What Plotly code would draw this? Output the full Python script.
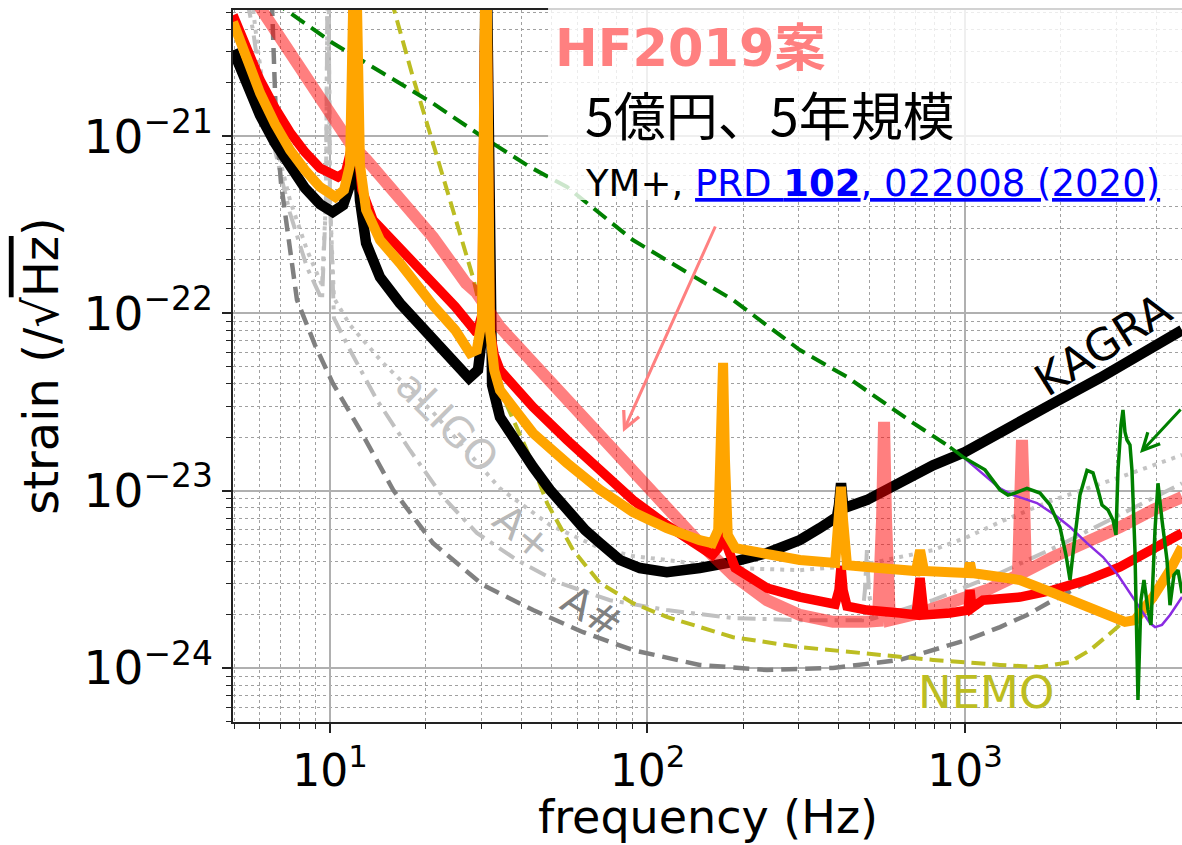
import plotly.graph_objects as go

# ---------------- sensitivity curves: frequency [Hz], strain [1/sqrt(Hz)] ----------------
kagra_f = [4.95, 5.40, 6.02, 6.71, 7.48, 8.34, 9.30, 10.2, 11.0, 11.56, 11.82, 12.0, 12.17, 12.43, 12.99,
           14.37, 16.61, 19.21, 22.21, 25.3, 27.4, 29.25, 30.3, 31.0, 31.7, 32.4, 34.3, 38.8, 43.6, 49.3,
           55.8, 63.6, 70.9, 81.9, 94.7, 115, 146, 186, 238, 302, 349, 395, 401, 407, 413, 425, 491, 624,
           793, 1000, 1289, 1852, 2662, 3825, 4826]
kagra_h = [3.05e-21, 2.07e-21, 1.31e-21, 9.13e-22, 6.68e-22, 5.09e-22, 4.13e-22, 3.73e-22, 4.08e-22, 5.30e-22,
           9.5e-22, 2e-20, 9.5e-22, 4.35e-22, 2.49e-22, 1.60e-22, 1.14e-22, 8.59e-23, 6.62e-23, 5.11e-23,
           4.31e-23, 4.79e-23, 8.05e-23, 2e-20, 8.05e-23, 3.94e-23, 2.60e-23, 1.81e-23, 1.36e-23, 1.01e-23,
           7.78e-24, 6.00e-24, 5.06e-24, 4.06e-24, 3.66e-24, 3.47e-24, 3.66e-24, 3.96e-24, 4.45e-24, 5.26e-24,
           6.15e-24, 7.1e-24, 8.3e-24, 1.1e-23, 8.3e-24, 8.08e-24, 8.85e-24, 1.13e-23, 1.39e-23, 1.65e-23,
           2.14e-23, 3.04e-23, 4.32e-23, 6.21e-23, 8.05e-23]

red_f = [4.95, 5.40, 6.02, 6.71, 7.48, 8.34, 9.30, 10.6, 11.2, 11.65, 12.0, 12.25, 12.61, 13.66, 16.61,
         21.1, 24.8, 27.0, 29.0, 30.1, 31.0, 31.9, 32.9, 34.3, 43.6, 55.8, 70.9, 90.0, 115, 146, 160, 167,
         173, 179, 189, 238, 302, 390, 401, 407, 413, 425, 491, 624, 701, 722, 743, 897, 1022, 1037, 1052,
         1139, 1490, 1893, 2423, 3078, 3910, 4826]
red_h = [4.81e-21, 3.26e-21, 2.07e-21, 1.44e-21, 1.05e-21, 8.12e-22, 6.6e-22, 5.87e-22, 6.27e-22, 8.34e-22,
         2e-20, 8.34e-22, 4.96e-22, 3.36e-22, 2.28e-22, 1.48e-22, 1.09e-22, 9.17e-23, 7.74e-23, 9.78e-23,
         2e-20, 8.05e-23, 5.82e-23, 4.79e-23, 2.96e-23, 1.93e-23, 1.30e-23, 8.85e-24, 6.40e-24, 4.81e-24,
         4.33e-24, 4.74e-24, 6.40e-24, 4.74e-24, 3.66e-24, 2.82e-24, 2.51e-24, 2.29e-24, 2.75e-24, 3.75e-24,
         2.75e-24, 2.23e-24, 2.12e-24, 2.04e-24, 1.99e-24, 3.21e-24, 1.99e-24, 2.04e-24, 2.12e-24, 2.75e-24,
         2.18e-24, 2.41e-24, 2.51e-24, 2.75e-24, 3.13e-24, 3.71e-24, 4.62e-24, 5.77e-24]

orange_f = [4.95, 5.40, 6.02, 6.71, 7.48, 8.34, 9.30, 10.4, 11.07, 11.56, 12.0, 12.43, 12.7, 12.99, 14.37,
            16.61, 21.1, 24.8, 27.6, 29.0, 30.1, 31.0, 31.9, 32.9, 34.3, 43.6, 55.8, 70.9, 90.0, 115, 146,
            160, 167, 170.4, 173, 175.4, 179, 189, 238, 302, 390, 401, 407, 413, 425, 491, 624, 701, 722,
            743, 897, 1022, 1037, 1052, 1289, 1490, 1893, 2423, 2862, 3191, 3430, 3910, 4423, 4826]
orange_h = [4.40e-21, 2.86e-21, 1.75e-21, 1.17e-21, 8.34e-22, 6.43e-22, 5.16e-22, 4.53e-22, 4.96e-22, 6.86e-22,
            2e-20, 6.86e-22, 4.96e-22, 3.83e-22, 2.59e-22, 1.92e-22, 1.11e-22, 8.05e-23, 5.97e-23, 6.21e-23,
            9.17e-23, 2e-20, 8.05e-23, 4.79e-23, 3.69e-23, 2.11e-23, 1.43e-23, 1.01e-23, 7.57e-24, 6.15e-24,
            5.26e-24, 5.06e-24, 6.0e-24, 1.49e-23, 5.25e-23, 1.49e-23, 5.62e-24, 4.74e-24, 4.33e-24, 4.06e-24,
            3.91e-24, 6.83e-24, 1.05e-23, 6.83e-24, 3.80e-24, 3.71e-24, 3.56e-24, 3.52e-24, 4.62e-24, 3.52e-24,
            3.47e-24, 3.43e-24, 3.91e-24, 3.43e-24, 3.26e-24, 3.13e-24, 2.65e-24, 2.21e-24, 1.94e-24, 1.82e-24,
            1.86e-24, 2.51e-24, 3.56e-24, 4.81e-24]

hf2019_f = [5.81, 7.11, 8.04, 9.03, 10.0, 11.0, 11.56, 12.99, 16.61, 21.1, 26.8, 28.8, 34.3, 43.6, 55.8,
            70.9, 90.0, 115, 146, 186, 238, 302, 384, 488, 532, 548, 556, 564, 580, 722, 917, 1173, 1468,
            1490, 1512, 1534, 1556, 1893, 2423, 3078, 3910, 4826]
hf2019_h = [5.85e-21, 3.35e-21, 2.36e-21, 1.75e-21, 1.31e-21, 1.04e-21, 9.13e-22, 7.4e-22, 4.53e-22, 2.69e-22,
            1.48e-22, 1.32e-22, 8.37e-23, 5.25e-23, 3.24e-23, 2.00e-23, 1.26e-23, 7.78e-24, 5.06e-24, 3.34e-24,
            2.41e-24, 1.99e-24, 1.82e-24, 1.82e-24, 1.84e-24, 6.83e-24, 2.44e-23, 6.83e-24, 1.86e-24, 2.04e-24,
            2.32e-24, 2.75e-24, 3.34e-24, 8.85e-24, 1.93e-23, 8.85e-24, 3.52e-24, 4.22e-24, 5.06e-24, 6.23e-24,
            7.78e-24, 9.2e-24]

nemo_f = [15.6, 18.25, 21.1, 24.4, 28.2, 34.3, 41.7, 48.3, 58.3, 70.9, 90.0, 115, 186, 302, 491, 793,
          1289, 1723, 2142, 2476, 2821, 3123]
nemo_h = [5.85e-21, 2.15e-21, 9.13e-22, 3.83e-22, 1.60e-22, 3.69e-23, 1.69e-23, 8.5e-24, 4.62e-24, 3.01e-24,
          2.32e-24, 1.94e-24, 1.49e-24, 1.31e-24, 1.21e-24, 1.11e-24, 1.04e-24, 1.01e-24, 1.08e-24, 1.26e-24,
          1.53e-24, 1.79e-24]

green_dash_f = [6.56, 7.27, 10.2, 14.69, 21.1, 30.3, 42.7, 55.8, 90.0, 186, 302, 425, 686, 897]
green_dash_h = [5.85e-21, 5.14e-21, 3.35e-21, 2.26e-21, 1.53e-21, 9.87e-22, 6.68e-22, 5.16e-22, 2.59e-22,
                1.19e-22, 6.21e-23, 4.38e-23, 2.41e-23, 1.76e-23]

green_f = [897, 985, 1156, 1289, 1366, 1437, 1568, 1723, 1852, 1991, 2080, 2142, 2204, 2302, 2423, 2530,
           2624, 2701, 2821, 2925, 2989, 3033, 3100, 3145, 3191, 3238, 3309, 3357, 3430, 3506, 3583, 3662,
           3770, 3853, 3967, 4054, 4173, 4327, 4423, 4552, 4687, 4826]
green_h = [1.76e-23, 1.55e-23, 1.31e-23, 1.01e-23, 9.44e-24, 9.69e-24, 1.03e-23, 9.69e-24, 8.30e-24, 6.23e-24,
           4.33e-24, 3.13e-24, 4.93e-24, 9.44e-24, 1.30e-23, 1.26e-23, 1.01e-23, 8.30e-24, 7.78e-24, 6.83e-24,
           5.62e-24, 1.30e-23, 2.34e-23, 2.85e-23, 2.14e-23, 1.93e-23, 1.81e-23, 1.30e-23, 4.62e-24, 6.59e-25,
           2.41e-24, 3.13e-24, 2.12e-24, 1.75e-24, 6.0e-24, 1.10e-23, 6.83e-24, 4.06e-24, 2.26e-24, 3.34e-24,
           3.56e-24, 2.64e-24]

purple_f = [985, 1289, 1417, 1686, 1920, 2142, 2423, 2720, 3033, 3309, 3636, 3825, 3967, 4173, 4423, 4826]
purple_h = [1.55e-23, 1.03e-23, 9.44e-24, 8.51e-24, 7.28e-24, 6.23e-24, 5.06e-24, 4.22e-24, 3.34e-24,
            2.64e-24, 2.04e-24, 1.79e-24, 1.70e-24, 1.75e-24, 1.99e-24, 2.51e-24]

asharp_f = [6.56, 6.66, 6.76, 7.01, 7.43, 7.87, 8.97, 10.2, 12.43, 15.8, 21.1, 30.3, 43.6, 62.7, 90.0,
            146, 238, 384, 624, 1015, 1289, 1568, 1893, 3078, 4826]
asharp_h = [5.85e-21, 2.68e-21, 1.23e-21, 5.43e-22, 2.59e-22, 1.19e-22, 6.62e-23, 4.04e-23, 2.20e-23,
            1.01e-23, 5.06e-24, 2.94e-24, 2.12e-24, 1.59e-24, 1.26e-24, 1.04e-24, 9.73e-25, 1.0e-24, 1.11e-24,
            1.44e-24, 1.70e-24, 1.99e-24, 2.41e-24, 3.80e-24, 6.0e-24]

aligo_f = [5.68, 5.93, 6.24, 6.81, 7.48, 8.46, 9.44, 9.71, 9.86, 10.0, 10.29, 11.56, 14.69, 21.1, 27.0,
           34.3, 49.3, 70.9, 90.0, 115, 186, 302, 384, 474, 624, 793, 1015, 1289, 1893, 3078, 4826]
aligo_h = [5.85e-21, 3.05e-21, 1.60e-21, 8.34e-22, 4.35e-22, 2.28e-22, 1.44e-22, 4.35e-22, 2e-20, 4.35e-22,
           1.22e-22, 8.59e-23, 5.25e-23, 2.77e-23, 1.69e-23, 1.03e-23, 6.40e-24, 4.74e-24, 4.28e-24, 4.06e-24,
           3.66e-24, 3.56e-24, 3.71e-24, 3.80e-24, 4.22e-24, 4.62e-24, 5.47e-24, 6.65e-24, 8.85e-24, 1.19e-23,
           1.59e-23]

aplus_f = [5.48, 5.72, 6.15, 6.81, 7.48, 8.46, 9.44, 9.71, 9.86, 10.0, 10.29, 11.56, 14.06, 17.86, 22.7,
           29.0, 38.8, 53.0, 76.2, 115, 186, 302, 474, 484, 491, 498, 510, 793, 1289, 1991, 3078, 4826]
aplus_h = [5.85e-21, 3.96e-21, 1.60e-21, 7.32e-22, 3.68e-22, 1.82e-22, 1.19e-22, 4.35e-22, 2e-20, 4.35e-22,
           9.41e-23, 6.21e-23, 3.24e-23, 1.69e-23, 9.2e-24, 5.77e-24, 4.06e-24, 3.01e-24, 2.41e-24, 2.12e-24,
           1.91e-24, 1.86e-24, 1.86e-24, 2.75e-24, 4.62e-24, 2.75e-24, 1.89e-24, 2.41e-24, 3.43e-24, 4.93e-24,
           7.28e-24, 1.10e-23]

# ---------------- axis ticks ----------------
x_major = [10, 100, 1000]
x_major_text = ["10<sup>1</sup>", "10<sup>2</sup>", "10<sup>3</sup>"]
y_major = [1e-24, 1e-23, 1e-22, 1e-21]
y_major_text = ["10<sup>\u221224</sup>", "10<sup>\u221223</sup>", "10<sup>\u221222</sup>", "10<sup>\u221221</sup>"]
x_minor = [m * 10 ** e for e in range(0, 4) for m in range(2, 10)]
y_minor = [m * 10.0 ** e for e in range(-25, -20) for m in range(2, 10)]

FONT = "DejaVu Sans"
MIXED_FONT = "DejaVu Sans, Noto Sans CJK JP"
JP_FONT = "Noto Sans CJK JP"

fig = go.Figure()


def curve(f, h, color, width, dash="solid"):
    fig.add_trace(go.Scatter(x=f, y=h, mode="lines",
                             line=dict(color=color, width=width, dash=dash),
                             hoverinfo="skip", showlegend=False))


curve(aligo_f, aligo_h, "#c4c4c4", 4, "4px,6px")
curve(aplus_f, aplus_h, "#c0c0c0", 4, "18px,7px,4px,7px")
curve(asharp_f, asharp_h, "#808080", 4.5, "16px,8px")
curve(nemo_f, nemo_h, "#bcbd22", 4, "14px,7px")
curve(green_dash_f, green_dash_h, "#008000", 4, "16px,8px")
curve(kagra_f, kagra_h, "#000000", 10.5)
curve(hf2019_f, hf2019_h, "rgba(255,0,0,0.5)", 12)
curve(red_f, red_h, "#ff0000", 9.5)
curve(orange_f, orange_h, "#ffa500", 10)
curve(purple_f, purple_h, "#8a2be2", 2.5)
curve(green_f, green_h, "#008000", 3.5)

axis_common = dict(
    type="log",
    showline=True, linecolor="#222222", linewidth=1.5,
    ticks="outside", ticklen=9, tickwidth=1.5, tickcolor="#222222",
    showgrid=True, gridcolor="#b0b0b0", gridwidth=1.5,
    tickfont=dict(family=FONT, size=47, color="black"),
    zeroline=False,
    minor=dict(ticks="outside", ticklen=5, tickwidth=1, tickcolor="#222222",
               showgrid=True, gridcolor="#a0a0a0", gridwidth=1.2, griddash="dot"),
)

fig.update_xaxes(**axis_common)
fig.update_xaxes(range=[0.6945, 3.6835], mirror=True,
                 tickmode="array", tickvals=x_major, ticktext=x_major_text,
                 tickfont=dict(family=FONT, size=44, color="black"),
                 minor_tickmode="array", minor_tickvals=x_minor)
fig.update_yaxes(**axis_common)
fig.update_yaxes(range=[-24.305, -20.289],
                 tickmode="array", tickvals=y_major, ticktext=y_major_text,
                 minor_tickmode="array", minor_tickvals=y_minor,
                 title=dict(text="strain (/\u221a<span style='text-decoration:overline'>Hz</span>)",
                            font=dict(family=FONT, size=48, color="black"), standoff=10))

# faded panel behind the headline text
fig.add_shape(type="rect", xref="paper", yref="paper", x0=0.332, x1=1.05, y0=0.733, y1=1.03,
              fillcolor="rgba(255,255,255,0.8)", line=dict(width=0), layer="above")

annotations = [
    # x-axis title
    dict(text="frequency (Hz)", x=0.501, y=(722 - 817) / 712, xanchor="center", yanchor="middle",
         font=dict(family=FONT, size=46, color="black")),
    dict(text="<b>HF2019案</b>", x=0.3372, y=0.9466, xanchor="left", yanchor="middle",
         font=dict(family=MIXED_FONT, size=51, color="#ff8080")),
    dict(text="5億円、5年規模", x=0.3688, y=0.8553, xanchor="left", yanchor="middle",
         font=dict(family=JP_FONT, size=52, color="black")),
    dict(text="YM+, <span style='color:#0000ff'><u>PRD <b>102</b>, 022008 (2020)</u></span>",
         x=0.3688, y=0.757, xanchor="left", yanchor="middle",
         font=dict(family=FONT, size=37, color="black")),
    dict(text="KAGRA", x=0.9167, y=0.5295, textangle=-32, xanchor="center", yanchor="middle",
         font=dict(family=FONT, size=44, color="black")),
    dict(text="aLIGO", x=0.2255, y=0.4213, textangle=45, xanchor="center", yanchor="middle",
         font=dict(family=FONT, size=41, color="#c4c4c4")),
    dict(text="A+", x=0.3056, y=0.2654, textangle=40, xanchor="center", yanchor="middle",
         font=dict(family=FONT, size=41, color="#b8b8b8")),
    dict(text="A#", x=0.3783, y=0.1545, textangle=32, xanchor="center", yanchor="middle",
         font=dict(family=FONT, size=41, color="#808080")),
    dict(text="NEMO", x=0.7935, y=0.0421, xanchor="center", yanchor="middle",
         font=dict(family=FONT, size=45, color="#bcbd22")),
]
for a in annotations:
    a.update(xref="paper", yref="paper", showarrow=False)
    fig.add_annotation(**a)

# pointer arrows
fig.add_annotation(xref="paper", yref="paper", x=(623 - 233) / 949, y=(722 - 432) / 712,
                   ax=93, ay=-207, showarrow=True, arrowhead=5, arrowsize=1.1, arrowwidth=3,
                   arrowcolor="#ff8080", text="")
fig.add_annotation(xref="paper", yref="paper", x=(1140 - 233) / 949, y=(722 - 453) / 712,
                   ax=60, ay=-45, showarrow=True, arrowhead=5, arrowsize=1.1, arrowwidth=3,
                   arrowcolor="#008000", text="")

fig.update_layout(
    width=1182, height=845,
    margin=dict(l=233, r=0, t=10, b=123, autoexpand=False),
    paper_bgcolor="white", plot_bgcolor="white",
    font=dict(family=FONT, color="black"),
    showlegend=False,
)

fig.write_html("out.html")
